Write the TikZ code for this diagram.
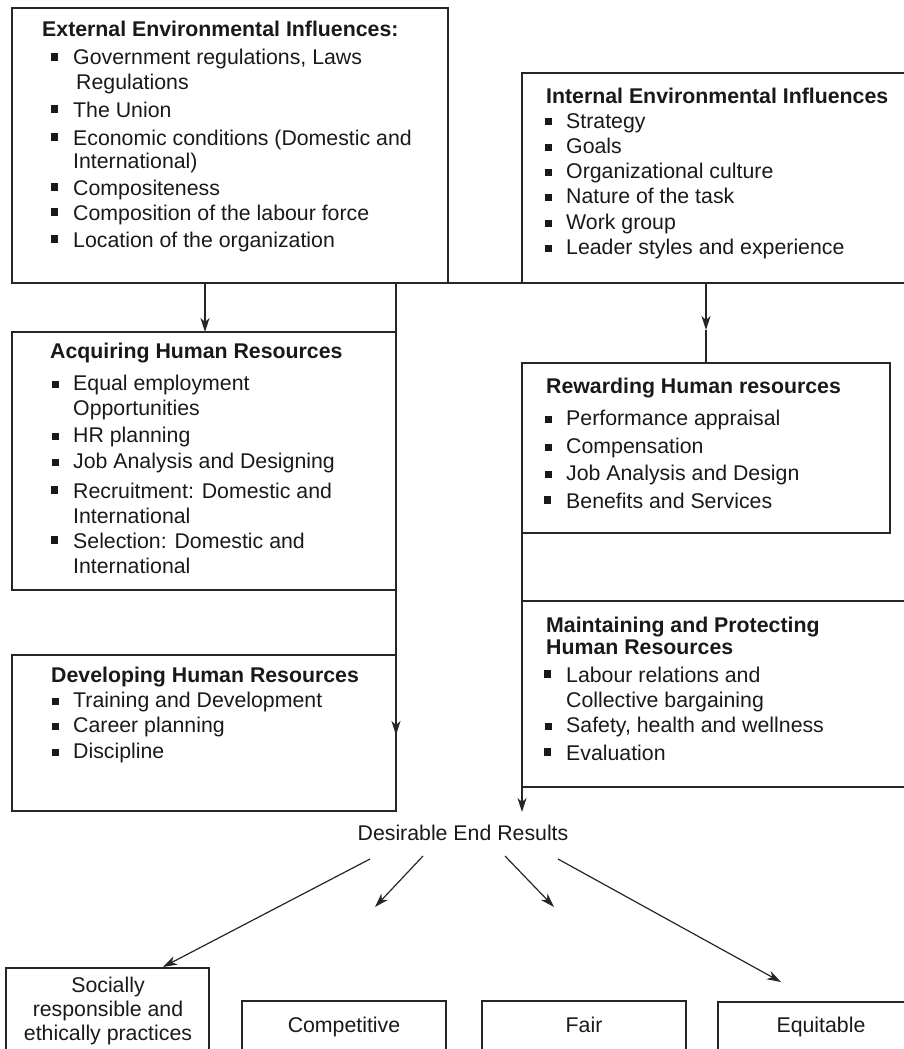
\documentclass[tikz,border=0pt]{standalone}
\usepackage{fontspec}
\setmainfont{Liberation Sans}
\usetikzlibrary{arrows.meta}
\newcommand{\bh}{\llap{\rule[4.5pt]{7.5pt}{7.5pt}\hspace{15pt}}}
\newcommand{\bl}{\llap{\rule[2.5pt]{7pt}{7pt}\hspace{14pt}}}
\begin{document}
\begin{tikzpicture}[x=1pt,y=-1pt,
  box/.style={draw=black!85, line width=1.2pt, anchor=north west, inner sep=0pt, outer sep=0pt},
  ln/.style={anchor=base west, inner sep=0pt, text=black!90, font=\fontsize{21.3}{25}\selectfont},
  ttl/.style={anchor=base west, inner sep=0pt, text=black!90, font=\fontsize{21.3}{25}\selectfont\bfseries},
  ctr/.style={anchor=base, inner sep=0pt, text=black!90, font=\fontsize{21.3}{25}\selectfont},
  conn/.style={draw=black!85, line width=1.2pt},
  arr/.style={conn, -{Stealth[length=14pt,width=9pt,inset=4pt]}}]
\useasboundingbox (0,0) rectangle (904,1049);
\clip (0,0) rectangle (904,1049);

% boxes
\node[box, minimum width=436pt, minimum height=275pt] (ext) at (12,8) {};
\node[box, minimum width=400pt, minimum height=210pt] (int) at (522,73) {};
\node[box, minimum width=384pt, minimum height=258pt] (acq) at (12,332) {};
\node[box, minimum width=384pt, minimum height=156pt] (dev) at (12,655) {};
\node[box, minimum width=368pt, minimum height=170pt] (rew) at (522,363) {};
\node[box, minimum width=400pt, minimum height=186pt] (mai) at (522,601) {};
\node[box, minimum width=203pt, minimum height=120pt] (soc) at (6,968) {};
\node[box, minimum width=204pt, minimum height=100pt] (com) at (242,1001) {};
\node[box, minimum width=204pt, minimum height=100pt] (fair) at (482,1001) {};
\node[box, minimum width=204pt, minimum height=100pt] (equ) at (718,1002) {};

% External
\node[ttl] (extt) at (42,37) {External Environmental Influences:};
\foreach \yy/\lt [count=\i] in {65/{\bh Government regulations, Laws},
  89/{\hspace*{3pt}Regulations}, 117/{\bh The Union},
  145/{\bh Economic conditions (Domestic and}, 168/{International)},
  195/{\bh Compositeness}, 220/{\bh Composition of the labour force},
  247/{\bh Location of the organization}}
  {\node[ln] (extl\i) at (73,\yy) {\lt};}

% Internal
\node[ttl] (intt) at (546,103) {Internal Environmental Influences};
\foreach \yy/\lt [count=\i] in {128/{\bl Strategy}, 153/{\bl Goals},
  178/{\bl Organizational culture}, 203/{\bl Nature of the task},
  229/{\bl Work group}, 254/{\bl Leader styles and experience}}
  {\node[ln] (intl\i) at (566,\yy) {\lt};}

% Acquiring
\node[ttl] (acqt) at (50,358) {Acquiring Human Resources};
\foreach \yy/\lt [count=\i] in {390/{\bl Equal employment}, 415/{Opportunities},
  442/{\bl HR planning}, 468/{\bl Job Analysis and Designing},
  498/{\bh Recruitment: Domestic and}, 523/{International},
  548/{\bh Selection: Domestic and}, 573/{International}}
  {\node[ln] (acql\i) at (73,\yy) {\lt};}

% Developing
\node[ttl] (devt) at (51,682) {Developing Human Resources};
\foreach \yy/\lt [count=\i] in {707/{\bl Training and Development},
  732/{\bl Career planning}, 758/{\bl Discipline}}
  {\node[ln] (devl\i) at (73,\yy) {\lt};}

% Rewarding
\node[ttl] (rewt) at (546,393) {Rewarding Human resources};
\foreach \yy/\lt [count=\i] in {425/{\bl Performance appraisal},
  453/{\bl Compensation}, 480/{\bl Job Analysis and Design},
  508/{\bh Benefits and Services}}
  {\node[ln] (rewl\i) at (566,\yy) {\lt};}

% Maintaining
\node[ttl] (mait1) at (546,632) {Maintaining and Protecting};
\node[ttl] (mait2) at (546,654) {Human Resources};
\foreach \yy/\lt [count=\i] in {682/{\bh Labour relations and},
  707/{Collective bargaining}, 732/{\bl Safety, health and wellness},
  760/{\bh Evaluation}}
  {\node[ln] (mail\i) at (566,\yy) {\lt};}

% Results
\node[ctr] (des) at (463,840) {Desirable End Results};
\node[ctr] (soc1) at (108,992) {Socially};
\node[ctr] (soc2) at (108,1016) {responsible and};
\node[ctr] (soc3) at (108,1040) {ethically practices};
\node[ctr] (comt) at (344,1032) {Competitive};
\node[ctr] (fairt) at (584,1032) {Fair};
\node[ctr] (equt) at (821,1032) {Equitable};

% connectors
\coordinate (ea) at (205,283);
\draw[arr] (ea) -- (ea |- acq.north);
\draw[conn] (ext.south -| acq.east) -- (acq.north east);
\draw[conn] (acq.south east) -- (dev.north east);
\coordinate (dtip) at (396,735);
\draw[arr] (dev.north east) -- (dtip);
\draw[conn] (ext.south east) -- (int.south west);
\coordinate (itip) at (706,330);
\draw[arr] (int.south -| itip) -- (itip);
\draw[conn] (itip) -- (itip |- rew.north);
\draw[conn] (rew.south west) -- (mai.north west);
\coordinate (mtip) at (522,812);
\draw[arr] (mai.south west) -- (mtip);

\coordinate (s1) at (370,859); \coordinate (t1) at (163,967);
\coordinate (s2) at (423,856); \coordinate (t2) at (375,907);
\coordinate (s3) at (505,856); \coordinate (t3) at (554,907);
\coordinate (s4) at (558,859); \coordinate (t4) at (781,982);
\draw[arr] (s1) -- (t1);
\draw[arr] (s2) -- (t2);
\draw[arr] (s3) -- (t3);
\draw[arr] (s4) -- (t4);
\end{tikzpicture}
\end{document}
